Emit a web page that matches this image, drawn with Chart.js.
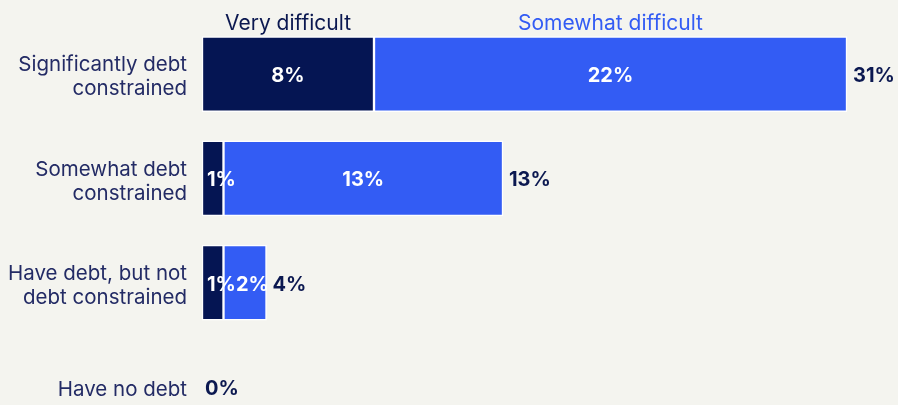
<!DOCTYPE html>
<html>
<head>
<meta charset="utf-8">
<script src="https://cdn.jsdelivr.net/npm/chart.js@4/dist/chart.umd.min.js"></script>
<style>
  html, body { margin: 0; padding: 0; background: #F4F4EF; overflow: hidden; }
  canvas { display: block; }
</style>
</head>
<body>
<canvas id="c" width="898" height="441"></canvas>
<script>
// Share of borrowers finding it difficult, by debt-constraint group
const categories = [
  ['Significantly debt', 'constrained'],
  ['Somewhat debt', 'constrained'],
  ['Have debt, but not', 'debt constrained'],
  ['Have no debt']
];
const seriesNames = ['Very difficult', 'Somewhat difficult'];
const veryDifficult = [8, 1, 1, 0];
const somewhatDifficult = [22, 13, 2, 0];
const totals = [31, 13, 4, 0];

const NAVY = '#051553';
const BLUE = '#335CF4';
const FONT = 'Inter, "Noto Sans", sans-serif';

// Segment values inside bars, totals at bar ends, series names above the first bar
const labelPlugin = {
  id: 'barLabels',
  afterDatasetsDraw(chart) {
    const ctx = chart.ctx;
    ctx.save();
    ctx.font = 'bold 20px ' + FONT;
    ctx.textBaseline = 'middle';
    ctx.textAlign = 'left';
    const metas = chart.data.datasets.map((d, i) => chart.getDatasetMeta(i));
    categories.forEach((cat, row) => {
      let prevRight = -Infinity;
      let endX = chart.scales.x.getPixelForValue(0);
      const y = metas[0].data[row].y + 2;
      metas.forEach((meta, di) => {
        const v = chart.data.datasets[di].data[row];
        const el = meta.data[row];
        const left = Math.min(el.base, el.x), right = Math.max(el.base, el.x);
        endX = Math.max(endX, right);
        if (!v) return;
        const text = v + '%';
        const w = ctx.measureText(text).width;
        let tx = (left + right) / 2 - w / 2;
        if (w + 4 > right - left) tx = left + 5;
        if (tx < prevRight) tx = prevRight;
        ctx.fillStyle = '#ffffff';
        ctx.fillText(text, tx, y);
        prevRight = tx + w;
      });
      ctx.fillStyle = '#0B1850';
      const start = chart.scales.x.getPixelForValue(0);
      ctx.fillText(totals[row] + '%', endX > start + 1 ? endX + 6 : start + 3, y);
    });
    // series names centred over the first bar's segments
    ctx.font = '21px ' + FONT;
    ctx.textAlign = 'center';
    ctx.textBaseline = 'alphabetic';
    const colors = ['#0B1850', BLUE];
    metas.forEach((meta, di) => {
      const el = meta.data[0];
      const cx = (el.base + el.x) / 2;
      const top = el.y - el.height / 2;
      ctx.fillStyle = colors[di];
      ctx.fillText(seriesNames[di], cx, top - 7);
    });
    ctx.restore();
  }
};

new Chart(document.getElementById('c'), {
  type: 'bar',
  data: {
    labels: categories,
    datasets: [
      { label: seriesNames[0], data: veryDifficult, backgroundColor: NAVY,
        borderColor: '#ffffff', borderWidth: 1.5, borderSkipped: false },
      { label: seriesNames[1], data: somewhatDifficult, backgroundColor: BLUE,
        borderColor: '#ffffff', borderWidth: 1.5, borderSkipped: false }
    ]
  },
  options: {
    indexAxis: 'y',
    responsive: false,
    animation: false,
    devicePixelRatio: 1,
    layout: { padding: { top: 22, bottom: 2, left: 0, right: 8 } },
    datasets: { bar: { barThickness: 75 } },
    plugins: { legend: { display: false }, tooltip: { enabled: false } },
    scales: {
      x: { stacked: true, min: 0, max: 32, display: false },
      y: {
        stacked: true,
        grid: { display: false, drawTicks: false },
        border: { display: false },
        ticks: { color: '#232B65', padding: 15, labelOffset: 3,
                 font: { family: FONT, size: 20.5, lineHeight: 1.17 } },
        afterFit(scale) {
          scale.width = 202;
          scale.paddingTop = 0;
          scale.paddingBottom = 0;
        }
      }
    }
  },
  plugins: [labelPlugin]
});
</script>
</body>
</html>
